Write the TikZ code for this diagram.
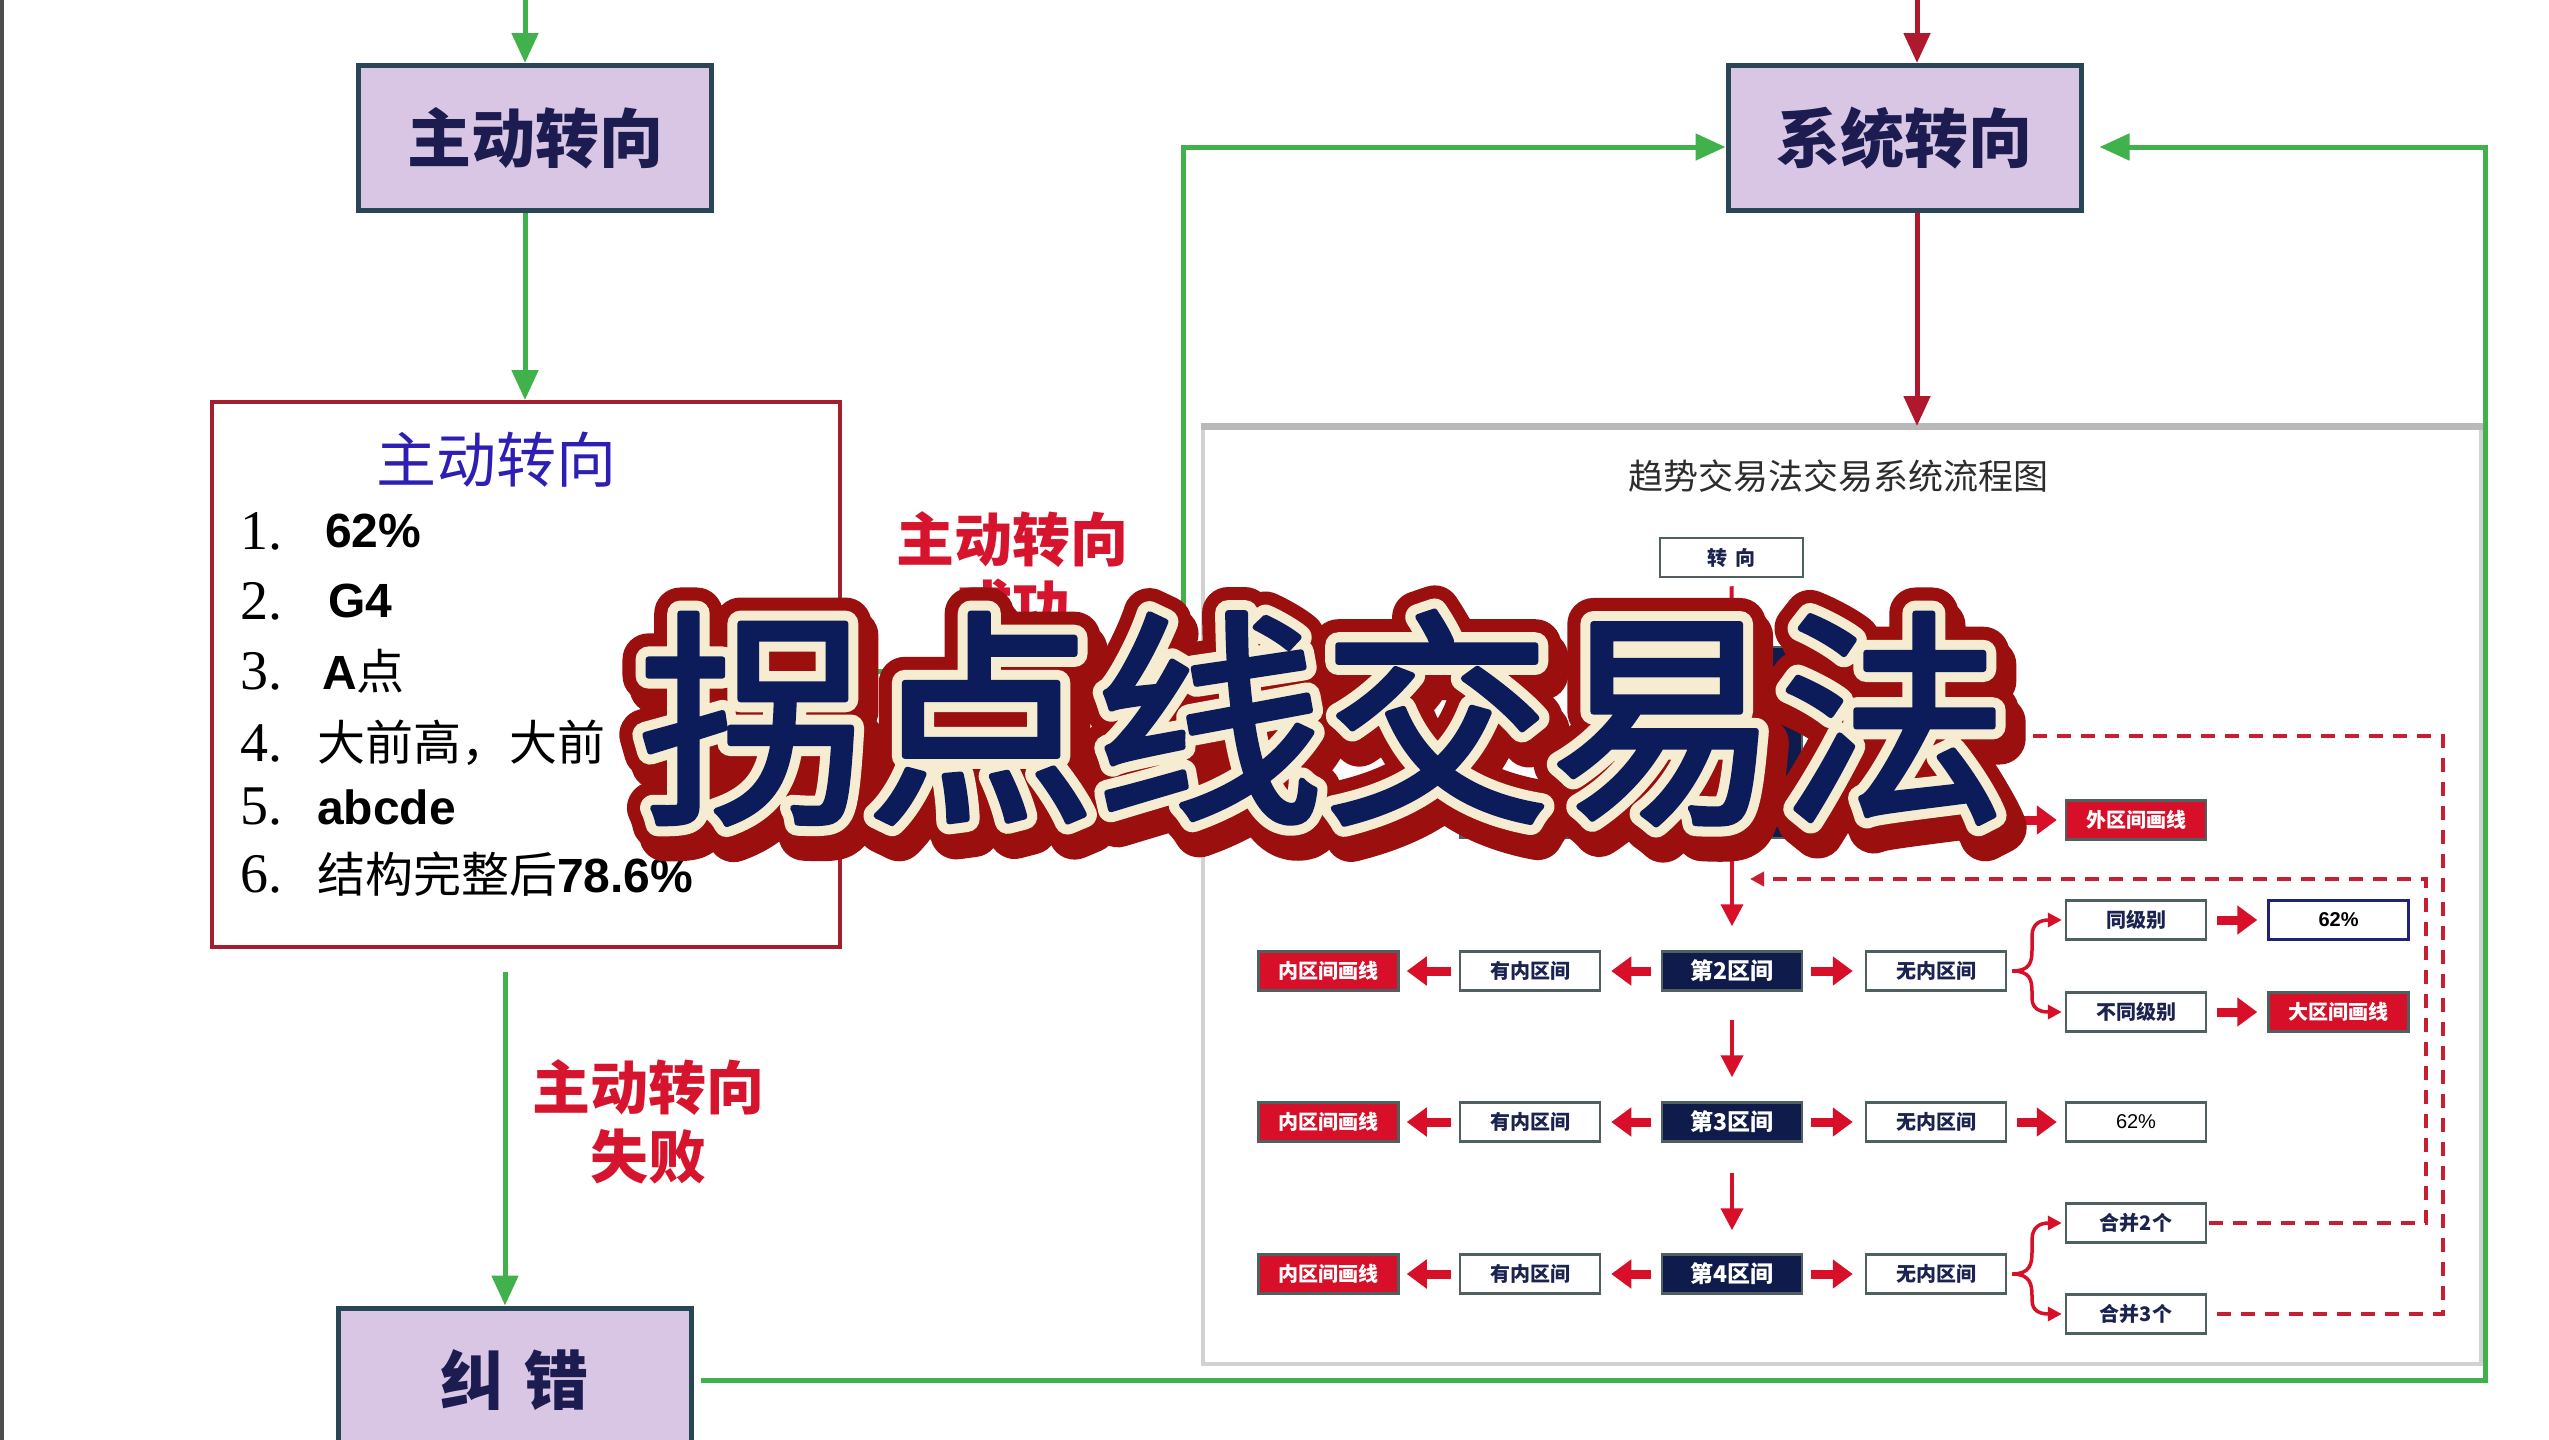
\documentclass[tikz,border=0pt]{standalone}
\usepackage{fontspec}
\newfontfamily\cjk{Noto Sans CJK SC}
\newfontfamily\arial{Liberation Sans}
\newfontfamily\tnr{Liberation Serif}
\usetikzlibrary{arrows.meta,calc}
\newcommand\myfs[1]{\fontsize{#1}{#1}\selectfont}
\newcommand\strk[3]{\special{pdf:literal direct 2 Tr 1 j 1 J #1 w #2 RG}#3\special{pdf:literal direct 0 Tr 0 j 0 J 0.4 w}}
\definecolor{gr}{RGB}{65,178,75}
\definecolor{dred}{RGB}{175,25,45}
\definecolor{boxedge}{RGB}{40,70,85}
\definecolor{lav}{RGB}{216,198,228}
\definecolor{navytxt}{RGB}{28,28,80}
\definecolor{rbedge}{RGB}{165,30,45}
\definecolor{tblue}{RGB}{45,30,180}
\definecolor{lred}{RGB}{215,20,45}
\definecolor{pnavy}{RGB}{15,28,75}
\definecolor{predc}{RGB}{215,15,40}
\definecolor{ared}{RGB}{215,15,40}
\definecolor{dashred}{RGB}{200,30,50}
\definecolor{pborder}{RGB}{80,95,95}
\definecolor{ptxt}{RGB}{27,35,80}
\definecolor{navyedge}{RGB}{30,35,120}
\definecolor{ttl}{RGB}{45,45,45}
\definecolor{ovnavy}{RGB}{12,28,90}
\definecolor{ovcream}{RGB}{245,236,210}
\definecolor{ovred}{RGB}{155,15,15}
\begin{document}
\begin{tikzpicture}[x=1pt,y=-1pt,
 purplebox/.style={draw=boxedge, line width=5, fill=lav, minimum width=353, minimum height=145, inner sep=0, font=\cjk\bfseries\myfs{64}, text=navytxt},
 garrow/.style={draw=gr, line width=5, -{Triangle[length=30,width=26]}},
 rarrow/.style={draw=dred, line width=5, -{Triangle[length=30,width=26]}},
 pb/.style={draw=pborder, line width=2.5, fill=white, minimum width=140, minimum height=39, inner sep=0, font=\cjk\bfseries\myfs{20}, text=ptxt},
 pnv/.style={pb, fill=pnavy, text=white, font=\cjk\bfseries\myfs{23}},
 prd/.style={pb, fill=predc, text=white},
 blk/.style={draw=ared, line width=9, -{Triangle[length=20,width=28]}},
 vblk/.style={draw=ared, line width=4, -{Triangle[length=22,width=22]}},
 brc/.style={draw=ared, line width=3.5, -{Triangle[length=14,width=14]}},
 dsh/.style={draw=dashred, line width=4, dash pattern=on 14 off 10},
 num/.style={anchor=west, inner sep=0, font=\tnr\myfs{56}, text=black},
 itm/.style={anchor=west, inner sep=0, font=\cjk\myfs{48}, text=black},
 ovtext/.style={font=\cjk\myfs{228}, inner sep=0, anchor=center}]
\fill[white] (0,0) rectangle (2549,1440);
\useasboundingbox (0,0) rectangle (2549,1440);
\draw[line width=4, draw=black!70] (2,0) -- (2,1440);

% ---------- left column ----------
\node[purplebox] (bA) at (535,138) {主动转向};
\node[draw=rbedge, line width=4, minimum width=628, minimum height=545, inner sep=0] (rb) at (526,674.5) {};
\node[purplebox] (jc) at (514.5,1380.5) {纠\hspace{20pt}错};

\coordinate (t1) at (525,0);
\draw[garrow] (t1) -- (t1 |- bA.north);
\draw[garrow] (bA.south -| t1) -- (t1 |- rb.north);
\coordinate (t2) at (505,972);
\draw[garrow] (t2) -- (t2 |- jc.north);

\node[font=\cjk\myfs{60}, text=tblue] (rtitle) at (496,460) {主动转向};
\node[num] (n1) at (240,531) {1.};
\node[num] (n2) at (240,601) {2.};
\node[num] (n3) at (240,671) {3.};
\node[num] (n4) at (240,743) {4.};
\node[num] (n5) at (240,807) {5.};
\node[num] (n6) at (240,874) {6.};
\node[itm] (i1) at (325,531) {\arial\bfseries 62\%};
\node[itm] (i2) at (328,601) {\arial\bfseries G4};
\node[itm] (i3) at (322,671) {{\arial\bfseries A}点};
\node[itm] (i4) at (317,743) {大前高，大前};
\node[itm] (i5) at (317,807) {\arial\bfseries abcde};
\node[itm] (i6) at (317,874) {结构完整后{\arial\bfseries 78.6\%}};

\node[font=\cjk\bfseries\fontsize{58}{69}\selectfont, text=lred, align=center] (lfail) at (648,1122) {主动转向\\失败};
\node[font=\cjk\bfseries\fontsize{58}{68}\selectfont, text=lred, align=center] (lsucc) at (1012,574) {主动转向\\成功};

% ---------- system box ----------
\node[purplebox] (xt) at (1904.5,138) {系统转向};
\coordinate (t3) at (1917,0);
\draw[rarrow] (t3) -- (t3 |- xt.north);

% ---------- panel ----------
\node[draw=gray!35, line width=4, fill=white, minimum width=1278, minimum height=936, inner sep=0] (panel) at (1842,896) {};
\draw[gray!55, line width=7] (panel.north west) -- (panel.north east);
\draw[rarrow] (xt.south -| t3) -- (t3 |- panel.north);

\node[font=\cjk\myfs{35}, text=ttl] (ptitle) at (1838,476) {趋势交易法交易系统流程图};
\node[pb, minimum width=143] (zx) at (1731.5,557.5) {转\hspace{8pt}向};

% row 1 (mostly hidden)
\node[pb] (r1b) at (1530,818) {};
\node[pnv, minimum height=191] (r1c) at (1732,742.5) {};
\node[prd] (r1h) at (2136,820) {外区间画线};
\draw[vblk] ([yshift=-8]zx.south) -- ([yshift=8]r1c.north);
\coordinate (r1s) at (2012,820);
\draw[blk] (r1s) -- ([xshift=-8]r1h.west);

% row 2
\node[prd] (r2a) at (1328.5,971) {内区间画线};
\node[pb] (r2b) at (1530,971) {有内区间};
\node[pnv] (r2c) at (1732,971) {第2区间};
\node[pb] (r2d) at (1936,971) {无内区间};
\node[pb] (r2e) at (2136,920) {同级别};
\node[pb, draw=navyedge, font=\arial\bfseries\myfs{20}, text=black] (r2f) at (2338.5,920) {62\%};
\node[pb] (r2g) at (2136,1012) {不同级别};
\node[prd] (r2h) at (2338.5,1012) {大区间画线};
\draw[blk] ([xshift=-8]r2b.west) -- ([xshift=7]r2a.east);
\draw[blk] ([xshift=-10]r2c.west) -- ([xshift=10]r2b.east);
\draw[blk] ([xshift=8]r2c.east) -- ([xshift=-12]r2d.west);
\draw[blk] ([xshift=10]r2e.east) -- ([xshift=-10]r2f.west);
\draw[blk] ([xshift=10]r2g.east) -- ([xshift=-10]r2h.west);
\draw[brc] ([xshift=5]r2d.east) .. controls (2030,971) and (2032,962) .. (2032,950) -- (2032,936) .. controls (2032,924) and (2040,920) .. ([xshift=-3]r2e.west);
\draw[brc] ([xshift=5]r2d.east) .. controls (2030,971) and (2032,980) .. (2032,992) -- (2032,998) .. controls (2032,1009) and (2040,1012) .. ([xshift=-3]r2g.west);

% row 3
\node[prd] (r3a) at (1328.5,1122) {内区间画线};
\node[pb] (r3b) at (1530,1122) {有内区间};
\node[pnv] (r3c) at (1732,1122) {第3区间};
\node[pb] (r3d) at (1936,1122) {无内区间};
\node[pb, font=\arial\myfs{20}, text=black] (r3e) at (2136,1122) {62\%};
\draw[blk] ([xshift=-8]r3b.west) -- ([xshift=7]r3a.east);
\draw[blk] ([xshift=-10]r3c.west) -- ([xshift=10]r3b.east);
\draw[blk] ([xshift=8]r3c.east) -- ([xshift=-12]r3d.west);
\draw[blk] ([xshift=10]r3d.east) -- ([xshift=-8]r3e.west);

% row 4
\node[prd] (r4a) at (1328.5,1274) {内区间画线};
\node[pb] (r4b) at (1530,1274) {有内区间};
\node[pnv] (r4c) at (1732,1274) {第4区间};
\node[pb] (r4d) at (1936,1274) {无内区间};
\node[pb] (r4e) at (2136,1223) {合并2个};
\node[pb] (r4g) at (2136,1314) {合并3个};
\draw[blk] ([xshift=-8]r4b.west) -- ([xshift=7]r4a.east);
\draw[blk] ([xshift=-10]r4c.west) -- ([xshift=10]r4b.east);
\draw[blk] ([xshift=8]r4c.east) -- ([xshift=-12]r4d.west);
\draw[brc] ([xshift=5]r4d.east) .. controls (2030,1274) and (2032,1264) .. (2032,1252) -- (2032,1240) .. controls (2032,1227) and (2040,1223) .. ([xshift=-3]r4e.west);
\draw[brc] ([xshift=5]r4d.east) .. controls (2030,1274) and (2032,1284) .. (2032,1296) -- (2032,1300) .. controls (2032,1311) and (2040,1314) .. ([xshift=-3]r4g.west);

% vertical arrows
\coordinate (v1) at (1732,850);
\draw[vblk] (v1) -- ([yshift=24]r2c.north);
\draw[vblk] ([yshift=-28]r2c.south) -- ([yshift=24]r3c.north);
\draw[vblk] ([yshift=-30]r3c.south) -- ([yshift=23]r4c.north);

% dashed feedback
\coordinate (d1) at (1985,736);
\coordinate (d2) at (2443,736);
\draw[dsh] (d1) -- (d2) -- (d2 |- r4g.east) -- ([xshift=2]r4g.east);
\coordinate (d3) at (2426,879);
\coordinate (d4) at (1750,879);
\draw[dsh, -{Triangle[length=14,width=14]}] ([xshift=2]r4e.east) -- (d3 |- r4e.east) -- (d3) -- (d4);

% ---------- green loops ----------
\coordinate (g1) at (1183,671);
\coordinate (xtl) at ([yshift=-9]xt.west);
\draw[garrow] ([xshift=28]rb.east |- g1) -- (g1) -- (g1 |- xtl) -- (xtl);
\coordinate (g2) at (2485,1380);
\coordinate (xtr) at ([xshift=16,yshift=-9]xt.east);
\draw[garrow] ([xshift=7]jc.east |- g2) -- (g2) -- (g2 |- xtr) -- (xtr);

% ---------- overlay title (stroked outline layers) ----------
\coordinate (ovc) at (1323,718);
\coordinate (ovsh) at (1330,730);
\node[ovtext, text=ovred] (ovs) at (ovsh) {\strk{52}{0.608 0.059 0.059}{拐点线交易法}};
\node[ovtext, text=ovred] (ovr) at (ovc) {\strk{52}{0.608 0.059 0.059}{拐点线交易法}};
\node[ovtext, text=ovcream] (ovw) at (ovc) {\strk{26}{0.961 0.925 0.824}{拐点线交易法}};
\node[ovtext, text=ovnavy] (ov) at (ovc) {\strk{6}{0.047 0.110 0.353}{拐点线交易法}};
\end{tikzpicture}
\end{document}
